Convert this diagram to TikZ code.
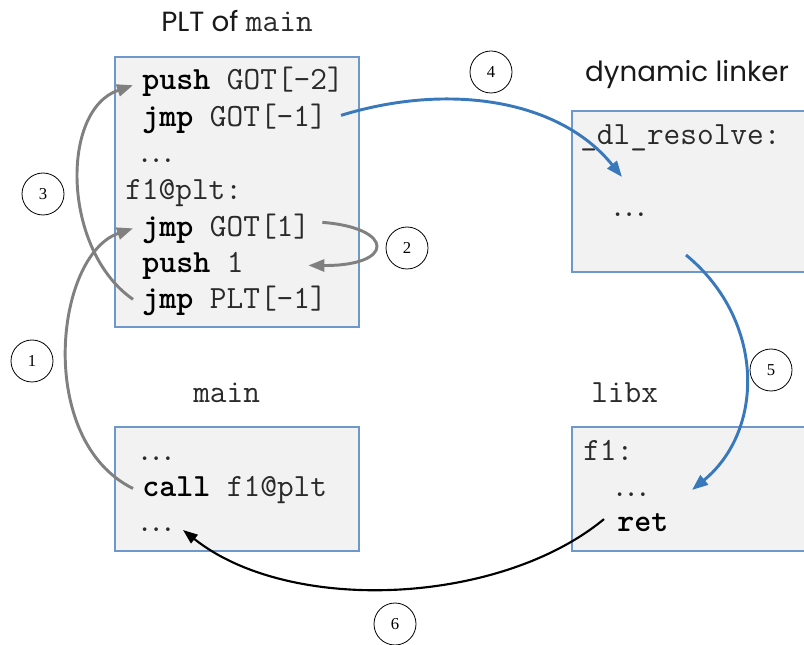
\documentclass[tikz,border=0pt]{standalone}
\usepackage{fontspec}
\setmainfont{Liberation Serif}
\newfontfamily\titlefamily{Poppins}
\usetikzlibrary{arrows.meta,calc}

\definecolor{boxfill}{HTML}{F2F2F2}
\definecolor{boxline}{HTML}{6F98CA}
\definecolor{codetext}{HTML}{2A2A2A}
\definecolor{flowgray}{HTML}{808080}
\definecolor{flowblue}{HTML}{3A78BC}

% monospaced code font and a compact ellipsis
\newcommand{\codefont}{\fontsize{24.3}{28}\selectfont\ttfamily}
\newcommand{\dts}{.\kern-0.155em.\kern-0.155em.}
\newcommand{\kw}[1]{{\color{black}\bfseries\addfontfeatures{FakeBold=1.6}#1}}

\begin{document}
\begin{tikzpicture}[x=0.75pt,y=-0.75pt,
  codebox/.style={draw=boxline, fill=boxfill, line width=0.8pt},
  code/.style={anchor=base west, inner sep=0pt, font=\codefont, text=codetext},
  heading/.style={anchor=base, inner sep=0pt, font=\fontsize{20.8}{24}\selectfont\titlefamily, text=black!90},
  num/.style={circle, draw, line width=0.6pt, minimum size=31.5pt, inner sep=0pt,
              font=\fontsize{12.5}{14}\selectfont},
  flow/.style={line width=2.2pt, -{Triangle[length=12pt,width=9pt]}},
  grayflow/.style={flow, draw=flowgray},
  blueflow/.style={flow, draw=flowblue},
  backflow/.style={line width=1.6pt, draw=black, -{Triangle[length=11pt,width=8pt]}}
]
\clip (0,0) rectangle (804,645);

% code boxes
\draw[codebox] (115,57) rectangle (359,327);
\draw[codebox] (572,111) rectangle (806,272);
\draw[codebox] (115,427) rectangle (359,551);
\draw[codebox] (572,427) rectangle (806,551);

% headings
\node[heading] (plttitle) at (237,32) {PLT of \codefont\color{codetext}main};
\node[heading] (dltitle) at (687,82) {dynamic linker};
\node[code] (maintitle) at (193,403) {main};
\node[code] (libtitle) at (591,403) {libx};

% PLT of main
\node[code] (plt1) at (142,90)  {\kw{push} GOT[-2]};
\node[code] (plt2) at (142,127) {\kw{jmp} GOT[-1]};
\node[code] (plt3) at (136,163) {\dts};
\node[code] (plt4) at (125,200) {f1@plt:};
\node[code] (plt5) at (142,237) {\kw{jmp} GOT[1]};
\node[code] (plt6) at (142,273) {\kw{push} 1};
\node[code] (plt7) at (142,309) {\kw{jmp} PLT[-1]};

% dynamic linker
\node[code] (dl1) at (580,145) {\_dl\_resolve:};
\node[code] (dl2) at (609,217) {\dts};

% main
\node[code] (main1) at (136,460) {\dts};
\node[code] (main2) at (142,497) {\kw{call} f1@plt};
\node[code] (main3) at (136,532) {\dts};

% libx
\node[code] (lib1) at (583,460) {f1:};
\node[code] (lib2) at (611,497) {\dts};
\node[code] (lib3) at (617,532) {\kw{ret}};

% step numbers
\node[num] (n1) at (32,361)  {1};
\node[num] (n2) at (407,248) {2};
\node[num] (n3) at (43,194)  {3};
\node[num] (n4) at (491,72)  {4};
\node[num] (n5) at (771,370) {5};
\node[num] (n6) at (395,624) {6};

% connector end points
\coordinate (c1s) at ($(main2.west)+(-9,-2)$);
\coordinate (c1e) at ($(plt5.west)+(-9,-1)$);
\coordinate (c2s) at ($(plt5.east)+(12,-7)$);
\coordinate (c2e) at ($(plt5.east |- plt6.east)+(-2,-1)$);
\coordinate (c3s) at ($(plt7.west)+(-9,-2)$);
\coordinate (c3e) at ($(plt1.west)+(-9,3)$);
\coordinate (c4s) at ($(plt2.east)+(14,-4)$);
\coordinate (c4e) at (622,177);
\coordinate (c5s) at (686,255);
\coordinate (c5e) at (692,490);
\coordinate (c6s) at ($(lib3.west)+(-13,-4)$);
\coordinate (c6e) at (183,530);

% control flow
\draw[grayflow] (c1s) .. controls (35,440) and (55,255) .. (c1e);
\draw[grayflow] (c2s) .. controls (395,228) and (395,266) .. (c2e);
\draw[grayflow] (c3s) .. controls (62,250) and (60,110) .. (c3e);
\draw[blueflow] (c4s) .. controls (450,82) and (560,100) .. (c4e);
\draw[blueflow] (c5s) .. controls (765,320) and (765,430) .. (c5e);
\draw[backflow] (c6s) .. controls (500,605) and (290,615) .. (c6e);
\end{tikzpicture}
\end{document}
